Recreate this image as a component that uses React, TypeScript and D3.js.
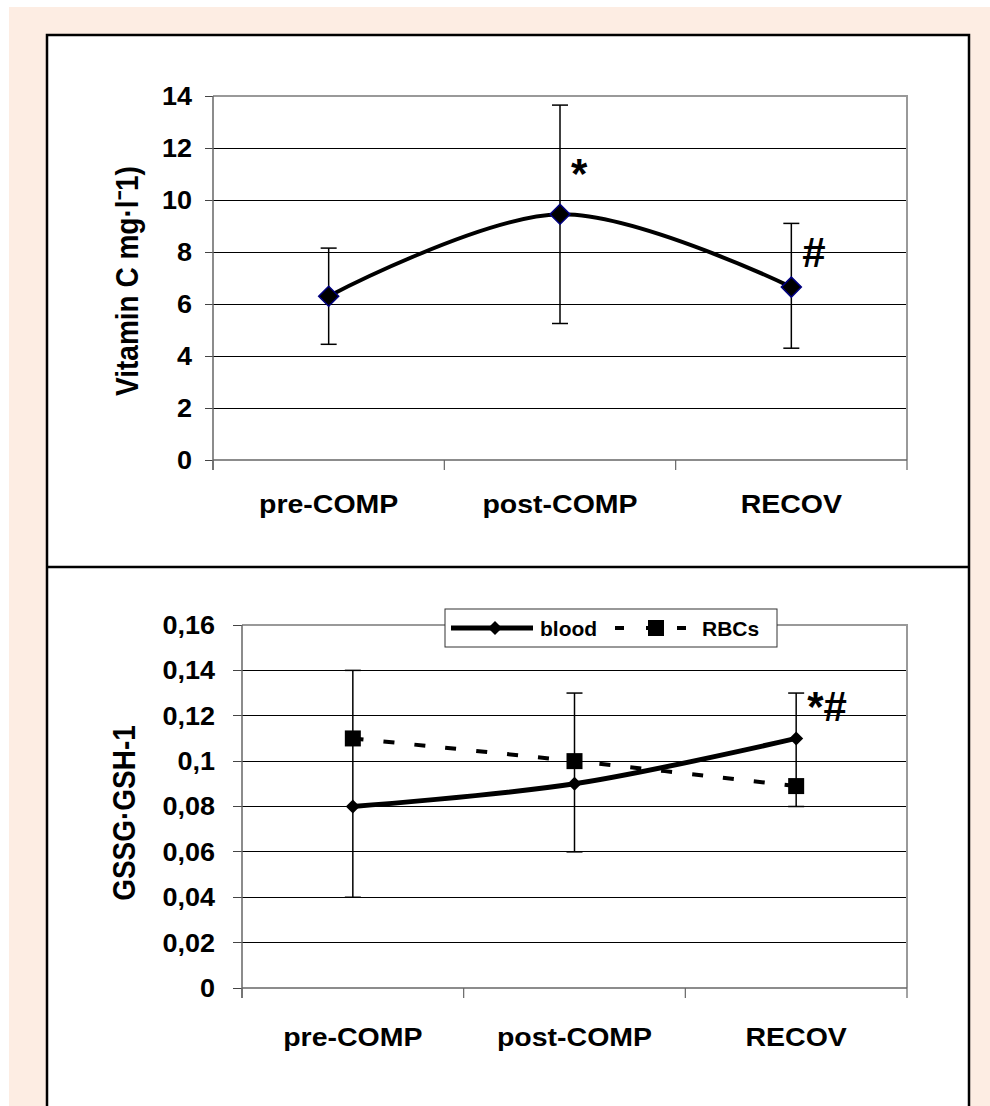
import React from 'react';
import * as d3 from 'd3';

// data
const categories = ['pre-COMP', 'post-COMP', 'RECOV'];

const vitC = [6.3, 9.45, 6.65];
const vitCLow = [4.45, 5.25, 4.3];
const vitCHigh = [8.15, 13.65, 9.1];
const vitCTicks = [0, 2, 4, 6, 8, 10, 12, 14];
const vitCMarks = ['', '*', '#'];

const blood = [0.08, 0.09, 0.11];
const rbcs = [0.11, 0.1, 0.089];
const gsLow = [0.04, 0.06, 0.08];
const gsHigh = [0.14, 0.13, 0.13];
const gsTicks = [0, 0.02, 0.04, 0.06, 0.08, 0.1, 0.12, 0.14, 0.16];
const gsTickLabels = ['0', '0,02', '0,04', '0,06', '0,08', '0,1', '0,12', '0,14', '0,16'];
const gsMarks = ['', '', '*#'];

const FONT = 'Liberation Sans, Arial, sans-serif';

const diamond = (cx: number, cy: number, r: number) =>
  `M${cx},${cy - r}L${cx + r},${cy}L${cx},${cy + r}L${cx - r},${cy}Z`;

const App = () => {
  // top panel
  const t = { left: 213, right: 907, top: 96, bottom: 460 };
  const xTop = d3.scaleBand().domain(categories).range([t.left, t.right]);
  const yTop = d3.scaleLinear().domain([0, 14]).range([t.bottom, t.top]);
  const cxTop = (i: number) => xTop(categories[i])! + xTop.bandwidth() / 2;
  const vitLine = d3.line<number>()
    .x((_, i) => cxTop(i))
    .y(d => yTop(d))
    .curve(d3.curveCatmullRom.alpha(0.5));

  // bottom panel
  const b = { left: 242, right: 907, top: 625, bottom: 988 };
  const xBot = d3.scaleBand().domain(categories).range([b.left, b.right]);
  const yBot = d3.scaleLinear().domain([0, 0.16]).range([b.bottom, b.top]);
  const cxBot = (i: number) => xBot(categories[i])! + xBot.bandwidth() / 2;
  const gsLine = d3.line<number>()
    .x((_, i) => cxBot(i))
    .y(d => yBot(d))
    .curve(d3.curveCatmullRom.alpha(0.5));

  const bounds = (s: d3.ScaleBand<string>) => [...s.domain().map(c => s(c)!), s.range()[1]];

  return (
    <svg width={990} height={1106} style={{ position: 'absolute', left: 0, top: 0 }} fontFamily={FONT}>
      <rect x={0} y={0} width={990} height={1106} fill="#fff" />
      <rect x={9} y={7} width={981} height={1099} fill="#FDEDE3" />
      <rect x={47} y={35} width={922} height={1080} fill="#fff" stroke="#000" strokeWidth={2.5} />
      <line x1={47} x2={969} y1={567} y2={567} stroke="#000" strokeWidth={2.5} />

      {/* ---------- Vitamin C ---------- */}
      <g>
        {vitCTicks.map(v => (
          <g key={v}>
            {v > 0 && v < 14 && (
              <line x1={t.left} x2={t.right} y1={yTop(v)} y2={yTop(v)} stroke="#000" strokeWidth={1} shapeRendering="crispEdges" />
            )}
            <line x1={t.left - 8} x2={t.left} y1={yTop(v)} y2={yTop(v)} stroke="#444" strokeWidth={1} shapeRendering="crispEdges" />
            <text x={192} y={yTop(v) + 9} textAnchor="end" fontSize={25} fontWeight="bold"
              transform={`translate(192,0) scale(1.08,1) translate(-192,0)`}>{v}</text>
          </g>
        ))}
        <path d={`M${t.left},${t.top}H${t.right}V${t.bottom}`} fill="none" stroke="#999" strokeWidth={2} />
        <line x1={t.left} x2={t.left} y1={t.top} y2={t.bottom + 10} stroke="#666" strokeWidth={1.5} />
        <line x1={t.left} x2={t.right} y1={t.bottom} y2={t.bottom} stroke="#666" strokeWidth={1.5} />
        {bounds(xTop).map((x, i) => (
          <line key={i} x1={x} x2={x} y1={t.bottom} y2={t.bottom + 10} stroke="#666" strokeWidth={1.2} />
        ))}
        {categories.map((c, i) => (
          <text key={c} x={cxTop(i)} y={513} textAnchor="middle" fontSize={25} fontWeight="bold"
            transform={`translate(${cxTop(i)},0) scale(1.14,1) translate(${-cxTop(i)},0)`}>{c}</text>
        ))}
        <text transform="translate(138,281) scale(1.1,1) rotate(-90)" textAnchor="middle" fontSize={28} fontWeight="bold">
          Vitamin C mg·l⁻1)
        </text>

        {vitC.map((v, i) => (
          <g key={i} stroke="#000" strokeWidth={1.5}>
            <line x1={cxTop(i)} x2={cxTop(i)} y1={yTop(vitCLow[i])} y2={yTop(vitCHigh[i])} />
            <line x1={cxTop(i) - 8} x2={cxTop(i) + 8} y1={yTop(vitCLow[i])} y2={yTop(vitCLow[i])} />
            <line x1={cxTop(i) - 8} x2={cxTop(i) + 8} y1={yTop(vitCHigh[i])} y2={yTop(vitCHigh[i])} />
          </g>
        ))}
        <path d={vitLine(vitC)!} fill="none" stroke="#000" strokeWidth={4} />
        {vitC.map((v, i) => (
          <path key={i} d={diamond(cxTop(i), yTop(v), 10)} fill="#000" stroke="#000080" strokeWidth={1.5} />
        ))}
        {vitCMarks.map((m, i) => m && (
          <text key={i} x={cxTop(i) + 11} y={m === '*' ? 188 : 267} fontSize={42} fontWeight="bold">{m}</text>
        ))}
      </g>

      {/* ---------- GSSG/GSH ---------- */}
      <g>
        {gsTicks.map((v, k) => (
          <g key={k}>
            {k > 0 && k < gsTicks.length - 1 && (
              <line x1={b.left} x2={b.right} y1={yBot(v)} y2={yBot(v)} stroke="#000" strokeWidth={1} shapeRendering="crispEdges" />
            )}
            <line x1={b.left - 9} x2={b.left} y1={yBot(v)} y2={yBot(v)} stroke="#444" strokeWidth={1} shapeRendering="crispEdges" />
            <text x={215} y={yBot(v) + 9} textAnchor="end" fontSize={25} fontWeight="bold"
              transform={`translate(215,0) scale(1.08,1) translate(-215,0)`}>{gsTickLabels[k]}</text>
          </g>
        ))}
        <path d={`M${b.left},${b.top}H${b.right}V${b.bottom}`} fill="none" stroke="#999" strokeWidth={2} />
        <line x1={b.left} x2={b.left} y1={b.top} y2={b.bottom + 10} stroke="#666" strokeWidth={1.5} />
        <line x1={b.left} x2={b.right} y1={b.bottom} y2={b.bottom} stroke="#666" strokeWidth={1.5} />
        {bounds(xBot).map((x, i) => (
          <line key={i} x1={x} x2={x} y1={b.bottom} y2={b.bottom + 10} stroke="#666" strokeWidth={1.2} />
        ))}
        {categories.map((c, i) => (
          <text key={c} x={cxBot(i)} y={1046} textAnchor="middle" fontSize={25} fontWeight="bold"
            transform={`translate(${cxBot(i)},0) scale(1.14,1) translate(${-cxBot(i)},0)`}>{c}</text>
        ))}
        <text transform="translate(135,813) scale(1.1,1) rotate(-90)" textAnchor="middle" fontSize={28} fontWeight="bold">
          GSSG·GSH-1
        </text>

        {categories.map((c, i) => (
          <g key={c} stroke="#000" strokeWidth={1.5}>
            <line x1={cxBot(i)} x2={cxBot(i)} y1={yBot(gsLow[i])} y2={yBot(gsHigh[i])} />
            <line x1={cxBot(i) - 8} x2={cxBot(i) + 8} y1={yBot(gsLow[i])} y2={yBot(gsLow[i])} />
            <line x1={cxBot(i) - 8} x2={cxBot(i) + 8} y1={yBot(gsHigh[i])} y2={yBot(gsHigh[i])} />
          </g>
        ))}
        <path d={gsLine(rbcs)!} fill="none" stroke="#000" strokeWidth={4} strokeDasharray="11 20" />
        <path d={gsLine(blood)!} fill="none" stroke="#000" strokeWidth={5} />
        {rbcs.map((v, i) => (
          <rect key={i} x={cxBot(i) - 8} y={yBot(v) - 8} width={16} height={16} fill="#000" />
        ))}
        {blood.map((v, i) => (
          <path key={i} d={diamond(cxBot(i), yBot(v), 7)} fill="#000" />
        ))}
        {gsMarks.map((m, i) => m && (
          <text key={i} x={cxBot(i) + 11} y={721} fontSize={42} fontWeight="bold">{m}</text>
        ))}

        {/* legend */}
        <g>
          <rect x={445} y={609} width={332} height={38} fill="#fff" stroke="#333" strokeWidth={1} />
          <line x1={451} x2={533} y1={628} y2={628} stroke="#000" strokeWidth={5} />
          <path d={diamond(495, 628, 7)} fill="#000" />
          <text x={540} y={636} fontSize={21} fontWeight="bold">blood</text>
          <line x1={615} x2={690} y1={628} y2={628} stroke="#000" strokeWidth={4} strokeDasharray="9 22" />
          <rect x={648} y={620} width={16} height={16} fill="#000" />
          <text x={702} y={636} fontSize={21} fontWeight="bold">RBCs</text>
        </g>
      </g>
    </svg>
  );
};

export default App;
